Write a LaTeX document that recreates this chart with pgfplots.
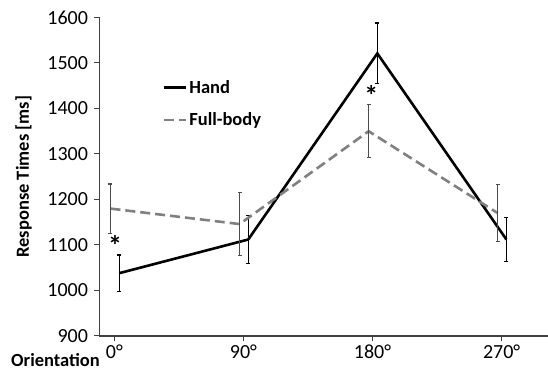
\documentclass[border=0pt]{standalone}
\usepackage{fontspec}
\setmainfont{Carlito}[Numbers={Monospaced,Lining}]
\usepackage{pgfplots}
\pgfplotsset{compat=1.18}
\definecolor{fbgray}{RGB}{128,128,128}
\definecolor{axgray}{RGB}{64,64,64}
\newcommand{\bigf}{\fontsize{18.5}{22}\selectfont}
\newcommand{\tickf}{\fontsize{20}{22}\selectfont}
\begin{document}
\begin{tikzpicture}[font=\bigf]
\begin{axis}[
  scale only axis,
  width=448.5pt, height=318.5pt,
  xmin=-0.115, xmax=3.359,
  ymin=900, ymax=1600,
  axis lines=left,
  axis line style={-, line width=1.3pt, color=axgray},
  every tick/.style={line width=1pt, color=axgray},
  tick align=outside,
  major tick length=5pt,
  xtick={0,1,2,3},
  xticklabels={{\tickf 0°},{\tickf 90°},{\tickf 180°},{\tickf 270°}},
  ytick={900,1000,1100,1200,1300,1400,1500,1600},
  yticklabels={{\tickf 900},{\tickf 1000},{\tickf 1100},{\tickf 1200},{\tickf 1300},{\tickf 1400},{\tickf 1500},{\tickf 1600}},
  yticklabel style={xshift=-3pt},
  ylabel={\bigf\textbf{Response Times [ms]}},
  ylabel style={at={([xshift=-76pt]axis description cs:0,0.5)}, anchor=center},
  legend style={draw=none, fill=none, at={(0.1406,0.81)}, anchor=north west,
    row sep=14pt, inner sep=0pt, font=\bigf\bfseries,
    /tikz/every even column/.append style={column sep=0pt}},
  legend cell align=left,
  legend image code/.code={\draw[#1] (0pt,0pt) -- (22pt,0pt);},
  clip=false,
]
\addplot[black, line width=2.6pt, solid,
  error bars/.cd, y dir=both, y explicit,
  error bar style={line width=1.1pt, black, solid},
  error mark options={rotate=90, mark size=2pt, line width=1.1pt, black, solid}]
  coordinates {
  (0.037,1038) +- (0,40)
  (1.037,1112) +- (0,52)
  (2.037,1521) +- (0,67)
  (3.037,1112) +- (0,49)
};
\addlegendentry{Hand}
\addplot[fbgray, line width=2.6pt, dash pattern=on 10pt off 5pt,
  error bars/.cd, y dir=both, y explicit,
  error bar style={line width=1.1pt, black!70, solid},
  error mark options={rotate=90, mark size=2pt, line width=1.1pt, black!70, solid}]
  coordinates {
  (-0.03,1180) +- (0,54)
  (0.97,1146) +- (0,69)
  (1.97,1350) +- (0,58)
  (2.97,1170) +- (0,63)
};
\addlegendentry{Full-body}
\node[anchor=center, inner sep=0pt, font=\fontsize{28}{30}\selectfont\bfseries] at (axis cs:0.005,1100) {*};
\node[anchor=center, inner sep=0pt, font=\fontsize{28}{30}\selectfont\bfseries] at (axis cs:1.99,1428) {*};
\coordinate (bl) at (rel axis cs:0,0);
\coordinate (tr) at (rel axis cs:1,1);
\end{axis}
\node[anchor=base east, inner sep=0pt, font=\bigf\bfseries] at ([shift={(0.5pt,-30.5pt)}]bl) {Orientation};
\pgfresetboundingbox
\path ([shift={(-99.5pt,-34pt)}]bl) rectangle ([shift={(0pt,17.5pt)}]tr);
\end{tikzpicture}
\end{document}
